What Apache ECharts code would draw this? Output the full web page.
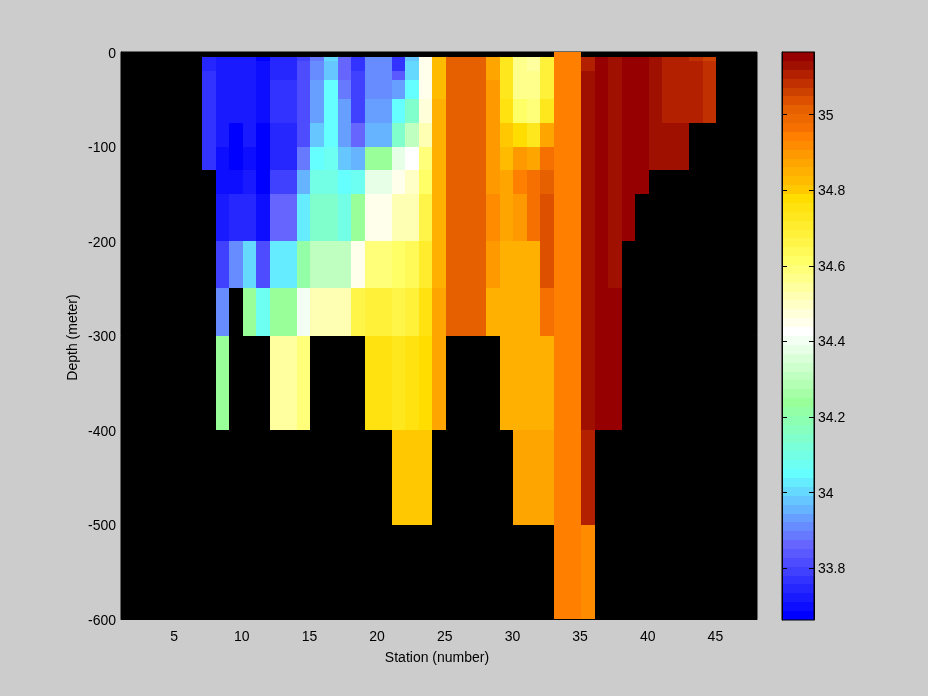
<!DOCTYPE html>
<html><head><meta charset="utf-8">
<style>html,body{margin:0;padding:0;background:#ccc}#c{width:928px;height:696px}</style>
<script src="https://cdn.jsdelivr.net/npm/echarts@6/dist/echarts.min.js"></script>
</head><body><div id="c"></div>
<script>
const depthEdges = [0,5,10,20,30,50,75,100,125,150,200,250,300,400,500,600];
const xTicks = [5,10,15,20,25,30,35,40,45];
const colorTicks = [33.8,34,34.2,34.4,34.6,34.8,35];
const colorMin = 33.663, colorMax = 35.166, colorLevels = 64;
const colorStops = [[0,'#0000ff'],[8,'#6666ff'],[16,'#66ffff'],[24,'#99ff99'],[32,'#ffffff'],[40,'#ffff66'],[47,'#ffdd00'],[48,'#ffc800'],[49,'#ffbb00'],[50,'#ffb000'],[51,'#ffa500'],[52,'#ff9900'],[53,'#ff8c00'],[54,'#ff8000'],[55,'#f57000'],[57,'#e66000'],[58,'#dd5000'],[59,'#cc4000'],[60,'#c03000'],[61,'#b32000'],[62,'#a01000'],[63,'#960000']];

const station7 = [null,33.745,33.745,33.769,33.769,33.769,33.769,33.769];
const station8 = [null,33.722,33.722,33.722,33.722,33.722,33.722,33.698,33.698,33.722,33.792,33.910,34.238];
const station9 = [null,33.722,33.722,33.722,33.722,33.722,33.675,33.675,33.698,33.745,33.910];
const station10 = [null,33.722,33.722,33.722,33.722,33.722,33.722,33.698,33.722,33.745,34.003,34.238];
const station11 = [null,33.675,33.698,33.698,33.698,33.698,33.675,33.675,33.675,33.698,33.816,34.074];
const station12 = [null,33.745,33.745,33.745,33.769,33.769,33.745,33.745,33.792,33.863,34.027,34.238,34.544];
const station13 = [null,33.745,33.745,33.745,33.769,33.769,33.745,33.745,33.792,33.863,34.027,34.238,34.544];
const station14 = [null,33.792,33.816,33.816,33.816,33.816,33.816,33.886,33.957,34.027,34.215,34.403,34.591];
const station15 = [null,33.886,33.910,33.910,33.933,33.933,33.980,34.050,34.097,34.144,34.309,34.520];
const station16 = [null,34.003,33.980,33.980,34.050,34.050,34.050,34.074,34.097,34.144,34.309,34.520];
const station17 = [null,33.863,33.863,33.863,33.886,33.933,33.933,33.980,34.050,34.097,34.309,34.520];
const station18 = [null,33.769,33.769,33.792,33.792,33.792,33.863,33.957,34.074,34.238,34.450,34.661];
const station19 = [null,33.910,33.910,33.910,33.910,33.933,33.957,34.238,34.379,34.450,34.591,34.685,34.755];
const station20 = [null,33.910,33.910,33.910,33.910,33.933,33.957,34.238,34.379,34.450,34.591,34.685,34.755];
const station21 = [null,33.769,33.769,33.839,33.933,34.050,34.144,34.379,34.450,34.520,34.614,34.661,34.732,34.802];
const station22 = [null,33.980,34.003,34.003,34.050,34.144,34.309,34.426,34.497,34.520,34.638,34.685,34.755,34.802];
const station23 = [null,34.450,34.450,34.450,34.450,34.473,34.520,34.591,34.614,34.661,34.708,34.755,34.779,34.802];
const station24 = [null,34.826,34.826,34.826,34.826,34.849,34.849,34.849,34.849,34.849,34.849,34.873,34.873];
const station25 = [null,35.014,35.014,35.014,35.014,35.014,35.014,35.014,35.014,35.014,35.014,35.014];
const station26 = [null,35.014,35.014,35.014,35.014,35.014,35.014,35.014,35.014,35.014,35.014,35.014];
const station27 = [null,35.014,35.014,35.014,35.014,35.014,35.014,35.014,35.014,35.014,35.014,35.014];
const station28 = [null,34.873,34.873,34.873,34.896,34.896,34.896,34.896,34.896,34.920,34.896,34.849];
const station29 = [null,34.732,34.732,34.732,34.732,34.755,34.802,34.826,34.873,34.873,34.849,34.849,34.849];
const station30 = [null,34.567,34.567,34.567,34.567,34.614,34.779,34.896,34.943,34.896,34.849,34.849,34.849,34.873];
const station31 = [null,34.544,34.544,34.567,34.567,34.591,34.732,34.873,34.967,34.967,34.849,34.849,34.849,34.873];
const station32 = [null,34.685,34.685,34.685,34.685,34.732,34.873,34.967,35.014,35.037,35.037,34.967,34.849,34.873];
const station33 = [34.943,34.943,34.943,34.943,34.943,34.943,34.943,34.943,34.943,34.943,34.943,34.943,34.943,34.943,34.943];
const station34 = [34.943,34.943,34.943,34.943,34.943,34.943,34.943,34.943,34.943,34.943,34.943,34.943,34.943,34.943,34.943];
const station35 = [null,35.108,35.108,35.131,35.131,35.131,35.131,35.131,35.131,35.131,35.131,35.131,35.131,35.108,34.920];
const station36 = [null,35.155,35.155,35.155,35.155,35.155,35.155,35.155,35.155,35.155,35.155,35.155,35.155];
const station37 = [null,35.131,35.131,35.131,35.131,35.131,35.131,35.131,35.131,35.131,35.131,35.155,35.155];
const station38 = [null,35.155,35.155,35.155,35.155,35.155,35.155,35.155,35.155,35.155];
const station39 = [null,35.155,35.155,35.155,35.155,35.155,35.155,35.155,35.155];
const station40 = [null,35.131,35.131,35.131,35.131,35.131,35.131,35.131];
const station41 = [null,35.108,35.108,35.108,35.108,35.108,35.131,35.131];
const station42 = [null,35.108,35.108,35.108,35.108,35.108,35.131,35.131];
const station43 = [null,35.084,35.108,35.108,35.108,35.108];
const station44 = [null,35.061,35.084,35.084,35.084,35.084];

const stationColumns = [[7,station7],[8,station8],[9,station9],[10,station10],[11,station11],[12,station12],[13,station13],[14,station14],[15,station15],[16,station16],[17,station17],[18,station18],[19,station19],[20,station20],[21,station21],[22,station22],[23,station23],[24,station24],[25,station25],[26,station26],[27,station27],[28,station28],[29,station29],[30,station30],[31,station31],[32,station32],[33,station33],[34,station34],[35,station35],[36,station36],[37,station37],[38,station38],[39,station39],[40,station40],[41,station41],[42,station42],[43,station43],[44,station44]];

function hexRgb(h){return [1,3,5].map(i=>parseInt(h.substr(i,2),16));}
const palette=[];
for(let i=0;i<colorLevels;i++){
  let a=colorStops[0],b=colorStops[colorStops.length-1];
  for(let s=0;s<colorStops.length-1;s++){ if(i>=colorStops[s][0]&&i<=colorStops[s+1][0]){a=colorStops[s];b=colorStops[s+1];break;} }
  const t=b[0]===a[0]?0:(i-a[0])/(b[0]-a[0]);
  const ca=hexRgb(a[1]),cb=hexRgb(b[1]);
  palette.push('rgb('+ca.map((c,k)=>Math.round(c+(cb[k]-c)*t)).join(',')+')');
}
function colorOf(v){
  const i=Math.floor((v-colorMin)/(colorMax-colorMin)*colorLevels);
  return palette[Math.max(0,Math.min(colorLevels-1,i))];
}

const cells=[];
stationColumns.forEach(([st,vals])=>{
  vals.forEach((v,r)=>{ if(v!==null) cells.push([st,st+1,-depthEdges[r],-depthEdges[r+1],v]); });
});
const bandStep=(colorMax-colorMin)/colorLevels;
const bands=palette.map((c,i)=>[0,1,colorMin+i*bandStep,colorMin+(i+1)*bandStep,colorMin+(i+0.5)*bandStep]);

function renderRect(params,api){
  const p0=api.coord([api.value(0),api.value(2)]);
  const p1=api.coord([api.value(1),api.value(3)]);
  const x0=Math.round(p0[0]),x1=Math.round(p1[0]),y0=Math.round(p0[1]),y1=Math.round(p1[1]);
  return {type:'rect',shape:{x:x0,y:y0,width:x1-x0,height:y1-y0},style:{fill:colorOf(api.value(4)),stroke:null}};
}
const font='"Liberation Sans", Arial, sans-serif';
const lab={color:'#000',fontFamily:font,fontSize:14};
const chart=echarts.init(document.getElementById('c'),null,{renderer:'canvas'});
chart.setOption({
  animation:false,
  backgroundColor:'#cccccc',
  grid:[
    {left:121,top:52,width:636,height:567,show:true,backgroundColor:'#000000',borderColor:'#000',borderWidth:1},
    {left:782,top:52,width:32,height:568,show:true,backgroundColor:'transparent',borderColor:'#000',borderWidth:1,z:5}
  ],
  xAxis:[
    {gridIndex:0,type:'value',min:1,max:48,name:'Station (number)',nameLocation:'middle',nameGap:32,
     nameTextStyle:Object.assign({padding:[0,4,0,0]},lab),
     splitLine:{show:false},axisLine:{show:true,onZero:false,lineStyle:{color:'#000'}},
     axisTick:{inside:true,length:5,lineStyle:{color:'#000'},customValues:xTicks},
     axisLabel:Object.assign({margin:11,padding:[0,2,0,0],customValues:xTicks,showMinLabel:true,showMaxLabel:true},lab)},
    {gridIndex:1,type:'value',min:0,max:1,show:false}
  ],
  yAxis:[
    {gridIndex:0,type:'value',min:-600,max:0,interval:100,name:'Depth (meter)',nameLocation:'middle',nameGap:41,nameMoveOverlap:false,
     nameTextStyle:Object.assign({padding:[0,4,0,0]},lab),
     splitLine:{show:false},axisLine:{show:true,onZero:false,lineStyle:{color:'#000'}},
     axisTick:{inside:true,length:5,lineStyle:{color:'#000'}},
     axisLabel:Object.assign({margin:5,verticalAlign:'top',lineHeight:4},lab)},
    {gridIndex:1,type:'value',min:colorMin,max:colorMax,position:'right',
     splitLine:{show:false},axisLine:{show:true,onZero:false,lineStyle:{color:'#000'}},z:6,
     axisTick:{inside:true,length:5,lineStyle:{color:'#000'},customValues:colorTicks},
     axisLabel:Object.assign({margin:4,verticalAlign:'top',lineHeight:2,customValues:colorTicks,formatter:v=>String(+v.toFixed(1))},lab)},
    {gridIndex:1,type:'value',min:colorMin,max:colorMax,position:'left',
     splitLine:{show:false},axisLine:{show:true,onZero:false,lineStyle:{color:'#000'}},z:6,
     axisTick:{inside:true,length:5,lineStyle:{color:'#000'},customValues:colorTicks},
     axisLabel:{show:false}}
  ],
  series:[
    {type:'custom',xAxisIndex:0,yAxisIndex:0,clip:true,data:cells,renderItem:renderRect,encode:{x:[0,1],y:[2,3]},silent:true},
    {type:'custom',xAxisIndex:1,yAxisIndex:1,clip:true,data:bands,renderItem:renderRect,encode:{x:[0,1],y:[2,3]},silent:true}
  ]
});
</script></body></html>
